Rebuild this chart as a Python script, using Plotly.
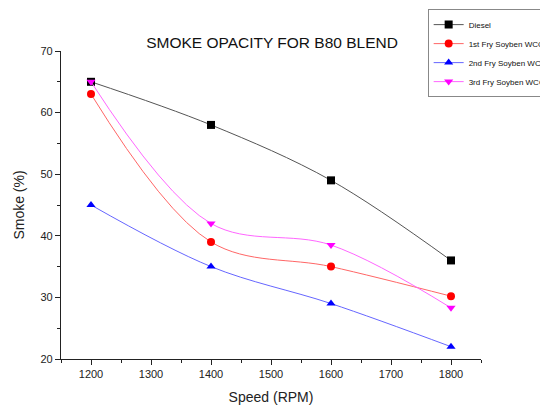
import plotly.graph_objects as go

speed = [1200, 1400, 1600, 1800]
diesel = [65, 58, 49, 36]
fry1 = [63, 39, 35, 30.2]
fry2 = [45, 35, 29, 22]
fry3 = [65, 42, 38.5, 28.3]

names = ["Diesel", "1st Fry Soyben WCO", "2nd Fry Soyben WCO", "3rd Fry Soyben WCO"]
series = [diesel, fry1, fry2, fry3]
line_colors = ["#555555", "#ff6666", "#6666ff", "#ff66ff"]
marker_colors = ["#000000", "#ff0000", "#0000ff", "#ff00ff"]
symbols = ["square", "circle", "triangle-up", "triangle-down"]

fig = go.Figure()
for n, s, lc, mc, sym in zip(names, series, line_colors, marker_colors, symbols):
    fig.add_trace(go.Scatter(
        x=speed, y=s, name=n, mode="lines+markers",
        line=dict(color=lc, width=1, shape="spline", smoothing=1.0),
        marker=dict(symbol=sym, color=mc, size=8),
    ))

font_family = "Liberation Sans, Arial, sans-serif"
fig.update_layout(
    width=540, height=402,
    margin=dict(l=53, r=67, t=43, b=51, autoexpand=False),
    paper_bgcolor="white", plot_bgcolor="white",
    font=dict(family=font_family, color="#222222"),
    title=dict(text="SMOKE OPACITY FOR B80 BLEND", x=0.489, xanchor="center",
               y=0.914, yanchor="middle", font=dict(size=15.5, color="#111111")),
    showlegend=True,
    legend=dict(x=0.873, y=1.136, xanchor="left", yanchor="top",
                font=dict(size=8, color="#111111"),
                bordercolor="#888888", borderwidth=1, bgcolor="white",
                itemwidth=30, tracegroupgap=0),
    xaxis=dict(range=[1150, 1850], tickmode="array",
               tickvals=[1200, 1300, 1400, 1500, 1600, 1700, 1800],
               ticks="outside", ticklen=5, tickwidth=1, tickcolor="#222222",
               minor=dict(tickvals=[1150, 1250, 1350, 1450, 1550, 1650, 1750, 1850],
                          ticks="outside", ticklen=3, tickcolor="#222222"),
               showline=True, linecolor="#222222", linewidth=1.2,
               showgrid=False, zeroline=False,
               tickfont=dict(size=11),
               title=dict(text="Speed (RPM)", font=dict(size=14), standoff=12)),
    yaxis=dict(range=[20, 70], tickmode="array",
               tickvals=[20, 30, 40, 50, 60, 70],
               ticks="outside", ticklen=5, tickwidth=1, tickcolor="#222222",
               minor=dict(tickvals=[25, 35, 45, 55, 65],
                          ticks="outside", ticklen=3, tickcolor="#222222"),
               showline=True, linecolor="#222222", linewidth=1.2,
               showgrid=False, zeroline=False,
               tickfont=dict(size=11),
               title=dict(text="Smoke (%)", font=dict(size=14), standoff=12)),
)

fig.write_html("out.html")
